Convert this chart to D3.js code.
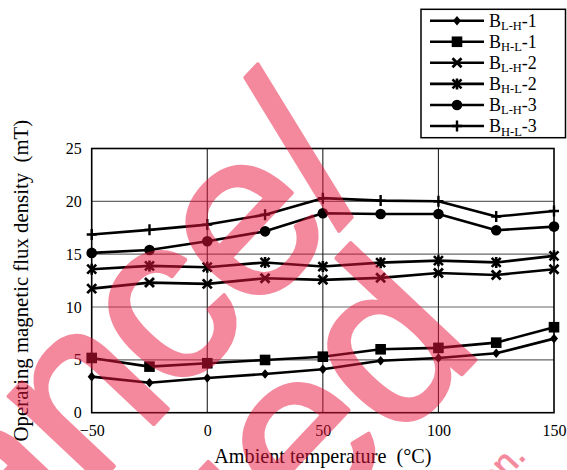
<!DOCTYPE html>
<html>
<head>
<meta charset="utf-8">
<script src="https://cdn.jsdelivr.net/npm/d3@7"></script>
<style>
  html, body { margin: 0; padding: 0; background: #fff; }
  svg { display: block; }
  .serif { font-family: "Liberation Serif", "Times New Roman", "DejaVu Serif", serif; }
  .sans { font-family: "Liberation Sans", Arial, sans-serif; }
</style>
</head>
<body>
<svg id="chart" width="567" height="470"></svg>
<script>
// ---- data ----
const temps = [-50, -25, 0, 25, 50, 75, 100, 125, 150];
const bLH1 = [3.41, 2.84, 3.29, 3.66, 4.11, 4.92, 5.18, 5.62, 7.01];
const bHL1 = [5.18, 4.36, 4.68, 4.99, 5.30, 6.00, 6.13, 6.63, 8.09];
const bLH2 = [11.74, 12.31, 12.19, 12.72, 12.57, 12.76, 13.22, 13.03, 13.58];
const bHL2 = [13.58, 13.89, 13.77, 14.22, 13.83, 14.20, 14.39, 14.22, 14.84];
const bLH3 = [15.12, 15.40, 16.23, 17.16, 18.88, 18.80, 18.80, 17.27, 17.61];
const bHL3 = [16.86, 17.30, 17.80, 18.74, 20.30, 20.07, 20.01, 18.56, 19.08];
const xTicks = [-50, 0, 50, 100, 150];
const yTicks = [0, 5, 10, 15, 20, 25];
const seriesNames = [
  ["L-H", "1"], ["H-L", "1"], ["L-H", "2"], ["H-L", "2"], ["L-H", "3"], ["H-L", "3"]
];
const seriesValues = [bLH1, bHL1, bLH2, bHL2, bLH3, bHL3];
const markerKinds = ["diamond", "square", "cross", "asterisk", "circle", "plus"];

// ---- layout ----
const svg = d3.select("#chart");
const pLeft = 91.7, pRight = 554, pTop = 148.5, pBottom = 412.7;
const x = d3.scaleLinear().domain([-50, 150]).range([pLeft, pRight]);
const y = d3.scaleLinear().domain([0, 25]).range([pBottom, pTop]);

// gridlines
svg.append("g").selectAll("line").data(yTicks.filter(d => d > 0 && d < 25)).join("line")
  .attr("x1", pLeft).attr("x2", pRight)
  .attr("y1", d => y(d)).attr("y2", d => y(d))
  .attr("stroke", "#666").attr("stroke-width", 1.2);
svg.append("g").selectAll("line").data(xTicks.filter(d => d > -50 && d < 150)).join("line")
  .attr("y1", pTop).attr("y2", pBottom)
  .attr("x1", d => x(d)).attr("x2", d => x(d))
  .attr("stroke", "#222").attr("stroke-width", 1.1);

// frame
svg.append("rect").attr("x", pLeft).attr("y", pTop)
  .attr("width", pRight - pLeft).attr("height", pBottom - pTop)
  .attr("fill", "none").attr("stroke", "#000").attr("stroke-width", 1.6);

// axes (tick labels only)
const xAxis = d3.axisBottom(x).tickValues(xTicks).tickSize(0).tickPadding(12)
  .tickFormat(d => d < 0 ? "\u2212" + Math.abs(d) : String(d));
const gx = svg.append("g").attr("transform", `translate(0,${pBottom})`).call(xAxis);
gx.attr("font-family", null).attr("font-size", null);
gx.select(".domain").remove();
gx.selectAll("text").attr("class", "serif").style("font-size", "16px").attr("fill", "#000");

const yAxis = d3.axisLeft(y).tickValues(yTicks).tickSize(0).tickPadding(10);
const gy = svg.append("g").attr("transform", `translate(${pLeft},0)`).call(yAxis);
gy.attr("font-family", null).attr("font-size", null);
gy.select(".domain").remove();
gy.selectAll("text").attr("class", "serif").style("font-size", "16px").attr("fill", "#000");

// axis titles
svg.append("text").attr("class", "serif").attr("x", (pLeft + pRight) / 2).attr("y", 463)
  .attr("text-anchor", "middle").style("font-size", "20.2px")
  .style("white-space", "pre")
  .text("Ambient temperature  (\u00B0C)");
svg.append("text").attr("class", "serif")
  .attr("transform", `translate(27.5,${(pTop + pBottom) / 2}) rotate(-90)`)
  .attr("text-anchor", "middle").style("font-size", "20.8px")
  .style("white-space", "pre")
  .text("Operating magnetic flux density  (mT)");

// marker drawing
function drawMarker(g, kind, cx, cy) {
  if (kind === "diamond") {
    g.append("path").attr("d", `M${cx},${cy - 4.8}L${cx + 4},${cy}L${cx},${cy + 4.8}L${cx - 4},${cy}Z`).attr("fill", "#000");
  } else if (kind === "square") {
    g.append("rect").attr("x", cx - 5.3).attr("y", cy - 5.3).attr("width", 10.6).attr("height", 10.6).attr("fill", "#000");
  } else if (kind === "cross") {
    g.append("path").attr("d", `M${cx - 4.5},${cy - 4.5}L${cx + 4.5},${cy + 4.5}M${cx - 4.5},${cy + 4.5}L${cx + 4.5},${cy - 4.5}`)
      .attr("stroke", "#000").attr("stroke-width", 2.8).attr("fill", "none");
  } else if (kind === "asterisk") {
    g.append("path").attr("d", `M${cx - 4.5},${cy - 4.5}L${cx + 4.5},${cy + 4.5}M${cx - 4.5},${cy + 4.5}L${cx + 4.5},${cy - 4.5}M${cx},${cy - 5.5}L${cx},${cy + 5.5}`)
      .attr("stroke", "#000").attr("stroke-width", 2.6).attr("fill", "none");
  } else if (kind === "circle") {
    g.append("circle").attr("cx", cx).attr("cy", cy).attr("r", 5.3).attr("fill", "#000");
  } else if (kind === "plus") {
    g.append("path").attr("d", `M${cx},${cy - 5.5}L${cx},${cy + 5.5}M${cx - 5},${cy}L${cx + 5},${cy}`)
      .attr("stroke", "#000").attr("stroke-width", 2.4).attr("fill", "none");
  }
}

// series lines and markers
const line = d3.line().x((d, i) => x(temps[i])).y(d => y(d));
seriesValues.forEach((vals, si) => {
  const g = svg.append("g");
  g.append("path").attr("d", line(vals)).attr("fill", "none")
    .attr("stroke", "#000").attr("stroke-width", 2.6).attr("stroke-linejoin", "round");
  vals.forEach((v, i) => drawMarker(g, markerKinds[si], x(temps[i]), y(v)));
});

// legend
const lg = svg.append("g");
lg.append("rect").attr("x", 421).attr("y", 9.3).attr("width", 144.5).attr("height", 128.4)
  .attr("fill", "#fff").attr("stroke", "#000").attr("stroke-width", 1.5);
const rowY = d3.scaleLinear().domain([0, 5]).range([20.7, 126]);
seriesNames.forEach((nm, i) => {
  const yy = rowY(i);
  const g = lg.append("g");
  g.append("line").attr("x1", 430).attr("x2", 484).attr("y1", yy).attr("y2", yy)
    .attr("stroke", "#000").attr("stroke-width", 2.6);
  drawMarker(g, markerKinds[i], 457, yy);
  const t = g.append("text").attr("class", "serif").attr("x", 489).attr("y", yy + 6)
    .style("font-size", "18px");
  t.append("tspan").text("B");
  t.append("tspan").style("font-size", "12.5px").attr("dy", 3.5).text(nm[0]);
  t.append("tspan").attr("dy", -3.5).text("-" + nm[1]);
});

// watermark
const wm = svg.append("g").attr("class", "sans").attr("opacity", 0.5)
  .attr("fill", "rgb(235,20,60)").attr("stroke", "rgb(235,20,60)")
  .attr("stroke-linejoin", "round");
const wmAngle = -46.7;
wm.append("text").attr("transform", `translate(378,186) rotate(${wmAngle})`)
  .attr("text-anchor", "end").style("font-size", "236px").style("letter-spacing", "-6px")
  .attr("stroke-width", 4).text("Maintenance/");
wm.append("text").attr("transform", `translate(484,351) rotate(${wmAngle})`)
  .attr("text-anchor", "end").style("font-size", "236px").style("letter-spacing", "-3px")
  .attr("stroke-width", 4).text("Discontinued");
wm.append("text").attr("transform", `translate(527,457) rotate(${wmAngle})`)
  .attr("text-anchor", "end").style("font-size", "36px").attr("stroke-width", 0.8).text("Please visit following URL about latest information.");
</script>
</body>
</html>
